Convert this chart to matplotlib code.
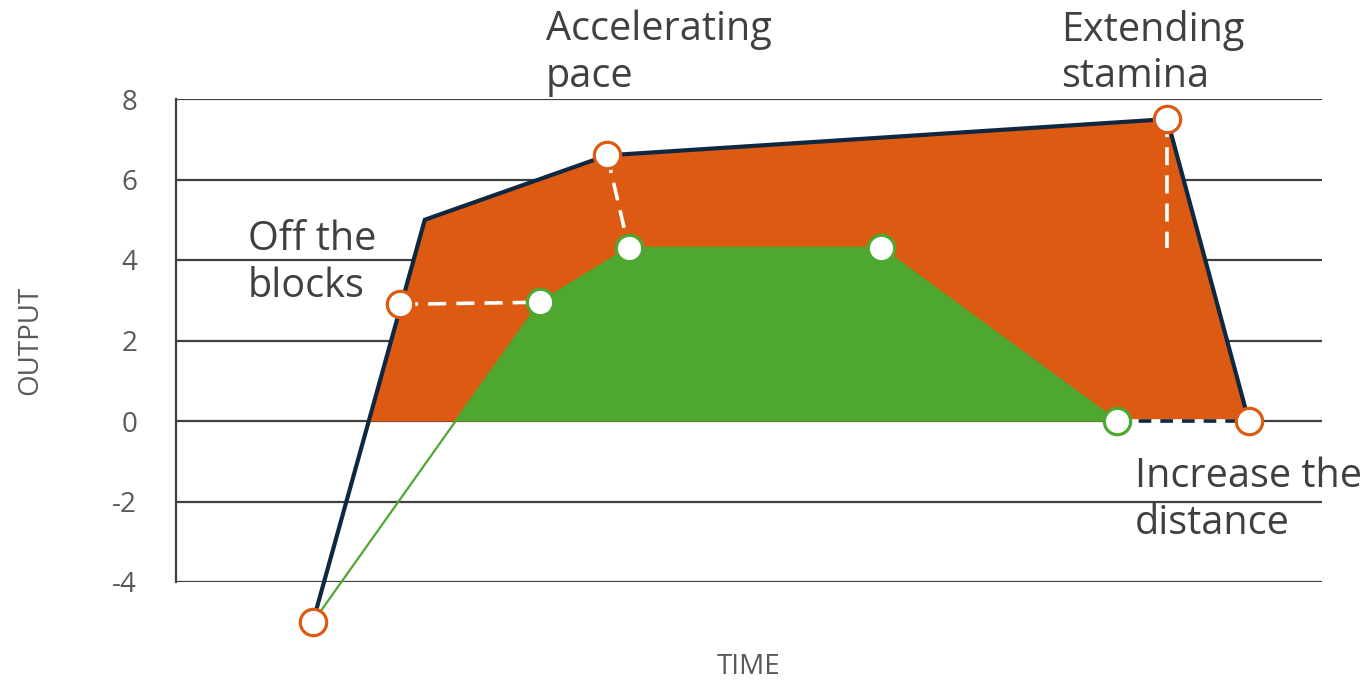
import numpy as np
import matplotlib
matplotlib.use("Agg")
import matplotlib.pyplot as plt

plt.rcParams['font.family'] = ['Open Sans', 'DejaVu Sans']

# outer (orange) series: outline points and marker points
outer_x = [1.71, 3.11, 5.39, 12.39, 13.41]
outer_y = [-5, 5, 6.6, 7.5, 0]
outer_mx = [1.71, 2.8, 5.39, 12.39, 13.41]
outer_my = [-5, 2.9, 6.6, 7.5, 0]

# inner (green) series
inner_x = [1.71, 4.55, 5.66, 8.81, 11.76]
inner_y = [-5, 2.95, 4.3, 4.3, 0]

# dashed connectors between the two series
links = [
    ([2.8, 4.55], [2.9, 2.95]),
    ([5.39, 5.66], [6.6, 4.3]),
    ([12.39, 12.39], [7.5, 4.3]),
]
base_link = ([11.76, 13.41], [0, 0])

labels = [
    (0.9, 5.0, "Off the\nblocks"),
    (4.62, 10.22, "Accelerating\npace"),
    (11.06, 10.22, "Extending\nstamina"),
    (11.99, -0.88, "Increase the\ndistance"),
]
y_ticks = [-4, -2, 0, 2, 4, 6, 8]

orange = '#DC5A12'
green = '#4EA72E'
navy = '#0E2841'
grid_c = '#404040'
text_c = '#404040'

fig = plt.figure(figsize=(13.7, 6.81), dpi=100)
ax = fig.add_axes([176 / 1370, 1 - 582 / 681, (1322 - 176) / 1370, (582 - 99) / 681])
ax.set_xlim(0, 14.325)
ax.set_ylim(-4, 8)

for t in y_ticks:
    ax.axhline(t, color=grid_c, lw=1.6, zorder=1)

ox = np.array(outer_x)
oy = np.array(outer_y)
ax.fill_between(ox, 0, oy, where=oy >= 0, interpolate=True, color=orange, lw=0, zorder=2)
ix = np.array(inner_x)
iy = np.array(inner_y)
ax.fill_between(ix, 0, iy, where=iy >= 0, interpolate=True, color=green, lw=0, zorder=3)

ax.plot(inner_x, inner_y, color=green, lw=1.6, zorder=4, clip_on=False)
ax.plot(outer_x, outer_y, color=navy, lw=3, zorder=5, clip_on=False, solid_joinstyle='miter')

for lx, ly in links:
    ax.plot(lx, ly, color='white', lw=2.6, dashes=(5, 2.8), zorder=6)
ax.plot(*base_link, color='white', lw=2.6, zorder=6)
ax.plot(*base_link, color=navy, lw=2.6, dashes=(3.5, 2.5), zorder=6)

ax.plot(inner_x[1:], inner_y[1:], ls='none', marker='o', ms=19, mfc='white',
        mec=green, mew=2.3, zorder=7, clip_on=False)
ax.plot(outer_mx, outer_my, ls='none', marker='o', ms=19, mfc='white',
        mec=orange, mew=2.3, zorder=8, clip_on=False)

for tx, ty, s in labels:
    ax.text(tx, ty, s, fontsize=28.5, color=text_c, va='top', ha='left',
            linespacing=1.2, clip_on=False)

ax.set_yticks(y_ticks)
ax.set_yticklabels([str(t) for t in y_ticks], fontsize=20, color='#595959')
ax.tick_params(axis='y', length=0, pad=28)
ax.set_xticks([])
for side in ['top', 'right', 'bottom']:
    ax.spines[side].set_visible(False)
ax.spines['left'].set_color(grid_c)
ax.spines['left'].set_linewidth(1.6)

fig.text(30 / 1370, 1 - 340 / 681, "OUTPUT", rotation=90, fontsize=20,
         color='#595959', ha='center', va='center')
fig.text(749 / 1370, 1 - 667 / 681, "TIME", fontsize=20,
         color='#595959', ha='center', va='center')

fig.savefig("out.png", dpi=100)
